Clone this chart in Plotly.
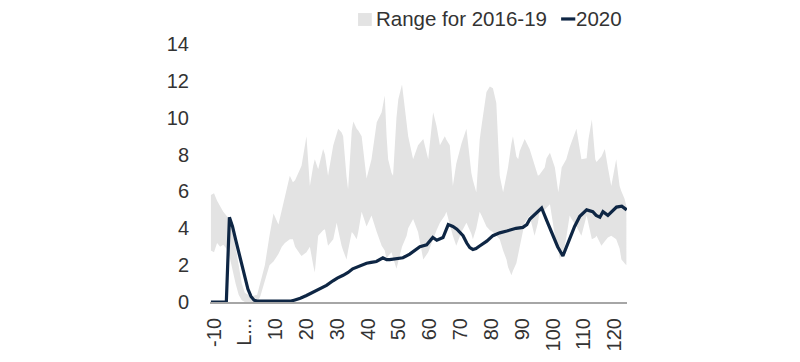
import plotly.graph_objects as go

# 2016-19 range band (upper / lower bounds)
band_x = [-11, -10, -9, -8, -7, -6, -5, -4, -3, -2, -1, 0, 2, 4, 5, 6.5, 8, 9.3, 10.9, 12, 13, 14.6,
          15.6, 16.3, 17.9, 18.4, 20, 21.1, 22.2, 22.7, 23.8, 25.4, 26, 27, 28.7, 29.8, 30.3, 31.4,
          31.9, 33, 33.5, 34.7, 35.2, 36.3, 36.8, 37.9, 39.5, 41.1, 42.8, 44.4, 45.4, 46, 46.5, 47.6,
          48.1, 49.2, 49.8, 51, 52.5, 53, 54.6, 56.2, 57.9, 59.5, 61.1, 62.2, 63.3, 64.9, 65.4, 66.5,
          67.5, 68.6, 70.3, 71.9, 73.5, 74, 75.1, 76.2, 76.8, 78.4, 79.5, 80.5, 81.6, 82.7, 83.8, 84.9,
          85.4, 86.5, 87, 88.1, 88.7, 89.2, 90.8, 92.4, 94, 95.1, 95.6, 97.3, 97.9, 99, 100.6, 101.7,
          102.2, 102.8, 103.8, 104.3, 105.4, 106, 107.6, 109.2, 110.9, 111.5, 112.6, 113.7, 114.1,
          115.7, 116.8, 117.8, 118.9, 120.5, 121.6, 122.2, 123.2, 123.8]
band_upper = [5.8, 5.9, 5.5, 5.2, 4.9, 4.7, 4.5, 3.8, 3.0, 2.0, 1.0, 0.5, 0.3, 0.4, 1.0, 2.0, 3.6, 4.8, 4.2,
              5.0, 5.6, 6.85, 6.5, 6.6, 7.2, 7.4, 9.0, 6.3, 7.4, 7.75, 7.2, 8.3, 8.0, 6.85, 8.5, 9.1,
              9.4, 9.2, 9.0, 6.8, 6.1, 9.3, 9.8, 9.4, 9.3, 9.0, 6.7, 7.75, 9.75, 10.3, 11.2, 9.0, 7.75,
              7.0, 6.85, 10.0, 11.0, 11.8, 9.5, 9.0, 7.75, 8.5, 8.85, 7.75, 10.3, 9.55, 8.5, 9.0, 8.8,
              8.5, 6.3, 7.5, 8.6, 9.4, 7.0, 6.6, 5.95, 8.8, 9.55, 11.4, 11.7, 11.6, 10.8, 6.85, 5.95,
              6.8, 7.3, 8.6, 9.0, 7.9, 7.75, 8.2, 8.85, 8.3, 7.5, 6.85, 6.9, 7.3, 7.8, 8.1, 7.3, 5.95,
              6.5, 7.3, 7.6, 7.75, 8.4, 8.65, 9.4, 7.75, 7.8, 8.85, 9.9, 7.75, 7.6, 7.9, 8.3, 7.3,
              6.3, 7.75, 6.3, 6.0, 5.6, 5.2]
band_lower = [2.8, 2.7, 3.2, 3.0, 3.1, 2.9, 2.5, 1.8, 1.0, 0.4, 0.1, 0.0, 0.0, 0.0, 0.3, 1.2, 2.0, 2.2, 2.6,
              3.0, 3.2, 3.4, 3.4, 3.0, 2.6, 2.5, 2.7, 3.0, 2.0, 1.6, 3.6, 3.9, 3.95, 3.05, 3.4, 4.3,
              3.9, 3.05, 2.8, 2.3, 2.8, 3.8, 3.7, 3.4, 3.8, 4.9, 4.1, 4.7, 3.8, 3.05, 2.8, 2.3, 2.5,
              2.7, 2.4, 1.8, 2.2, 3.0, 3.6, 4.0, 4.5, 3.8, 2.3, 2.7, 3.4, 3.9, 4.3, 4.7, 4.9, 4.2,
              3.6, 3.05, 3.8, 4.3, 3.7, 3.4, 4.0, 4.9, 4.7, 4.1, 3.9, 3.8, 3.6, 3.4, 2.8, 2.3, 1.9,
              1.45, 1.7, 2.1, 2.6, 3.05, 4.3, 4.7, 3.6, 4.3, 4.9, 5.0, 5.1, 5.3, 3.6, 2.8, 2.3, 2.6,
              3.05, 3.5, 4.7, 4.5, 4.1, 3.6, 4.7, 4.2, 3.4, 3.5, 3.6, 3.05, 3.3, 3.5, 3.6, 3.4, 2.9,
              2.3, 2.1, 2.0]

# 2020 series
line_x = [-11, -6, -5, -4, -3, -2, -1, 0, 1, 2, 3, 4, 15, 16, 18, 20, 21.2, 23, 24.5, 26.5, 28.6, 30,
          31.9, 33.5, 35, 37, 39.5, 41, 42.7, 44.8, 46, 47, 49, 51.3, 53.5, 55, 56.8, 59, 61, 62.3,
          64.3, 66, 67.5, 68.8, 70.8, 72, 73, 74, 75, 76.3, 78.5, 80.5, 82.7, 85, 88, 90.2, 91.5,
          92.5, 94.5, 96.3, 98, 99.6, 101.5, 103.2, 105.4, 107, 108.7, 110.9, 112.9, 114, 115.2,
          116.2, 117.8, 119, 120.6, 122.3, 123.9]
line_y = [0, 0, 4.6, 4.1, 3.4, 2.7, 2.0, 1.3, 0.7, 0.3, 0.1, 0.05, 0.05, 0.1, 0.2, 0.35, 0.45, 0.6, 0.7,
          0.9, 1.15, 1.3, 1.45, 1.6, 1.8, 1.95, 2.1, 2.15, 2.2, 2.4, 2.3, 2.3, 2.35, 2.4, 2.6, 2.8,
          3.0, 3.1, 3.5, 3.35, 3.5, 4.2, 4.1, 3.95, 3.6, 3.2, 2.95, 2.85, 2.9, 3.05, 3.3, 3.6, 3.75,
          3.85, 4.0, 4.05, 4.2, 4.5, 4.8, 5.1, 4.4, 3.8, 3.0, 2.5, 3.4, 4.1, 4.65, 5.0, 4.9, 4.7,
          4.6, 4.9, 4.7, 4.9, 5.15, 5.2, 5.0]

x_tickvals = [-10, 0, 10, 20, 30, 40, 50, 60, 70, 80, 90, 100, 110, 120]
x_ticktext = ["-10", "L...", "10", "20", "30", "40", "50", "60", "70", "80", "90", "100", "110", "120"]
y_tickvals = [0, 2, 4, 6, 8, 10, 12, 14]
legend_labels = ["Range for 2016-19", "2020"]

FONT = "Liberation Sans, Arial, sans-serif"
TXT = "#333333"
BAND = "#e3e3e3"
NAVY = "#0e2644"

fig = go.Figure()
fig.add_trace(go.Scatter(
    x=band_x + band_x[::-1], y=band_upper + band_lower[::-1],
    fill="toself", fillcolor=BAND, line=dict(width=0, color=BAND),
    mode="lines", name=legend_labels[0], hoverinfo="skip"))
fig.add_trace(go.Scatter(
    x=line_x, y=line_y, mode="lines", name=legend_labels[1],
    line=dict(color=NAVY, width=3.2)))

# manual legend (paper coordinates)
fig.add_shape(type="rect", xref="paper", yref="paper", x0=0.355, x1=0.388, y0=1.07, y1=1.12,
              fillcolor=BAND, line=dict(width=0))
fig.add_annotation(text=legend_labels[0], xref="paper", yref="paper", x=0.393, y=1.097,
                   xanchor="left", yanchor="middle", showarrow=False,
                   font=dict(size=20.5, color=TXT, family=FONT))
fig.add_shape(type="line", xref="paper", yref="paper", x0=0.842, x1=0.876, y0=1.097, y1=1.097,
              line=dict(color=NAVY, width=3.2))
fig.add_annotation(text=legend_labels[1], xref="paper", yref="paper", x=0.874, y=1.097,
                   xanchor="left", yanchor="middle", showarrow=False,
                   font=dict(size=20.5, color=TXT, family=FONT))

fig.update_layout(
    width=800, height=362,
    margin=dict(l=202, r=181, t=36, b=68, autoexpand=False),
    paper_bgcolor="white", plot_bgcolor="white",
    font=dict(family=FONT, size=20, color=TXT),
    showlegend=False,
    xaxis=dict(range=[-11.3, 124], tickvals=x_tickvals, ticktext=x_ticktext, tickangle=-90,
               showgrid=False, zeroline=False, showline=True, linecolor="#a6a6a6", linewidth=2,
               ticks="outside", ticklen=6, tickcolor="rgba(0,0,0,0)",
               tickfont=dict(size=20, color=TXT)),
    yaxis=dict(range=[0, 14], tickvals=y_tickvals, showgrid=False, zeroline=False,
               showline=False, ticks="outside", ticklen=16, tickcolor="rgba(0,0,0,0)",
               tickfont=dict(size=20, color=TXT)),
)

fig.write_html("out.html")
